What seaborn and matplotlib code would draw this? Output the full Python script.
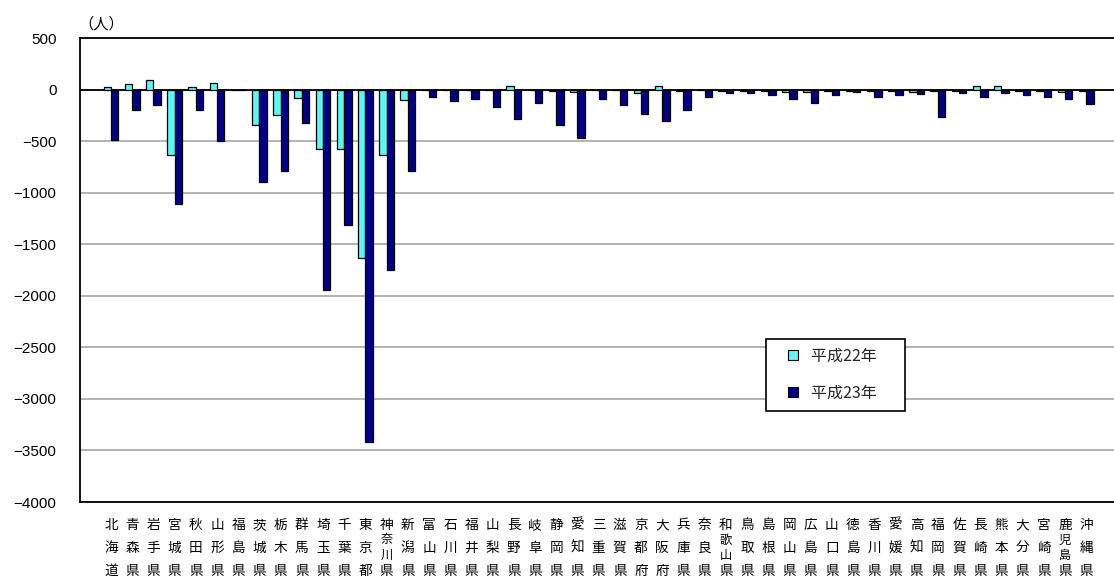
import numpy as np
import pandas as pd
import matplotlib
matplotlib.use("Agg")
import matplotlib.pyplot as plt
from matplotlib.lines import Line2D
import seaborn as sns

# Prefectures (north to south)
prefectures = [
    "北海道", "青森県", "岩手県", "宮城県", "秋田県", "山形県", "福島県",
    "茨城県", "栃木県", "群馬県", "埼玉県", "千葉県", "東京都", "神奈川県",
    "新潟県", "富山県", "石川県", "福井県", "山梨県", "長野県", "岐阜県",
    "静岡県", "愛知県", "三重県", "滋賀県", "京都府", "大阪府", "兵庫県",
    "奈良県", "和歌山県", "鳥取県", "島根県", "岡山県", "広島県", "山口県",
    "徳島県", "香川県", "愛媛県", "高知県", "福岡県", "佐賀県", "長崎県",
    "熊本県", "大分県", "宮崎県", "鹿児島県", "沖縄県",
]

series_names = ["平成22年", "平成23年"]

# Net change in population (persons)
h22 = [20, 55, 95, -630, 25, 60, 0, -340, -250, -85, -575, -580, -1630, -630,
       -100, -5, -5, -5, -5, 30, -5, -10, -20, -5, -5, -30, 30, -10,
       -5, -15, -10, -10, -20, -20, -10, -10, -15, -10, -20, -10, -15, 30,
       30, -10, -10, -20, -10]
h23 = [-490, -200, -145, -1110, -200, -500, 0, -900, -790, -320, -1940, -1310, -3420, -1750,
       -790, -75, -110, -90, -165, -290, -130, -340, -470, -90, -145, -240, -305, -195,
       -75, -30, -35, -50, -95, -130, -50, -20, -75, -50, -40, -270, -35, -70,
       -35, -50, -70, -90, -140]

y_ticks = list(range(-4000, 501, 500))

colors = {"平成22年": "#5ff5f5", "平成23年": "#000080"}

df = pd.DataFrame({
    "pref": prefectures * 2,
    "year": [series_names[0]] * len(prefectures) + [series_names[1]] * len(prefectures),
    "value": h22 + h23,
})

sns.set_theme(style="white")
plt.rcParams["font.family"] = ["Noto Sans CJK JP", "DejaVu Sans"]

W, H = 1114, 576
fig = plt.figure(figsize=(W / 100, H / 100), dpi=100)
fig.patch.set_facecolor("white")
ax = fig.add_axes([80 / W, 1 - 502 / H, 1 - 80 / W, 464 / H])

sns.barplot(data=df, x="pref", y="value", hue="year", palette=colors,
            width=0.7, saturation=1, edgecolor="black", linewidth=0.9,
            legend=False, ax=ax)

ax.set_ylim(-4000, 500)
ax.set_xlim(-1.46, 47.31)
ax.set_xlabel("")
ax.set_ylabel("")

# Horizontal grid and the zero baseline
ax.set_yticks(y_ticks)
ax.set_yticklabels([str(v).replace("-", "\u2212") for v in y_ticks],
                   fontfamily="Liberation Sans", fontsize=11, color="black")
ax.yaxis.grid(True, color="#a6a6a6", linewidth=1.2)
ax.set_axisbelow(True)
ax.axhline(0, color="black", linewidth=1.3, zorder=0.9)
ax.tick_params(axis="y", length=0, pad=17)

# Frame
for side in ("left", "top", "bottom"):
    ax.spines[side].set_visible(True)
    ax.spines[side].set_color("black")
    ax.spines[side].set_linewidth(1.3)
ax.spines["right"].set_visible(False)

# Vertical category labels, one character per row
ax.set_xticks(range(len(prefectures)))
ax.set_xticklabels([])
ax.tick_params(axis="x", length=0)
px = 0.72
for i, name in enumerate(prefectures):
    if len(name) == 3:
        rows = [(name[0], 23, 9.8), (name[1], 46, 9.8), (name[2], 69, 9.8)]
    else:
        rows = [(name[0], 23, 9.8), (name[1], 38, 8.8), (name[2], 53, 8.8), (name[3], 69, 9.8)]
    for ch, dy, fs in rows:
        ax.annotate(ch, xy=(i, 0), xycoords=("data", "axes fraction"),
                    xytext=(0, -dy * px), textcoords="offset points",
                    ha="center", va="center", fontsize=fs, color="black")

# Unit label
fig.text(78 / W, 1 - 24 / H, "（人）", ha="left", va="center", fontsize=11, color="black")

# Legend
handles = [Line2D([], [], marker="s", linestyle="none", markersize=7,
                  markerfacecolor=colors[n], markeredgecolor="black",
                  markeredgewidth=0.8) for n in series_names]
leg = ax.legend(handles, [n + "\u3000 " for n in series_names],
                loc="center", bbox_to_anchor=(0.731, 0.274), frameon=True,
                fancybox=False, edgecolor="black", framealpha=1, fontsize=11.5,
                handlelength=2.2, handletextpad=0.05, labelspacing=1.25, borderpad=0.55)
leg.get_frame().set_linewidth(1.2)

fig.savefig("out.png", dpi=100, facecolor="white")
